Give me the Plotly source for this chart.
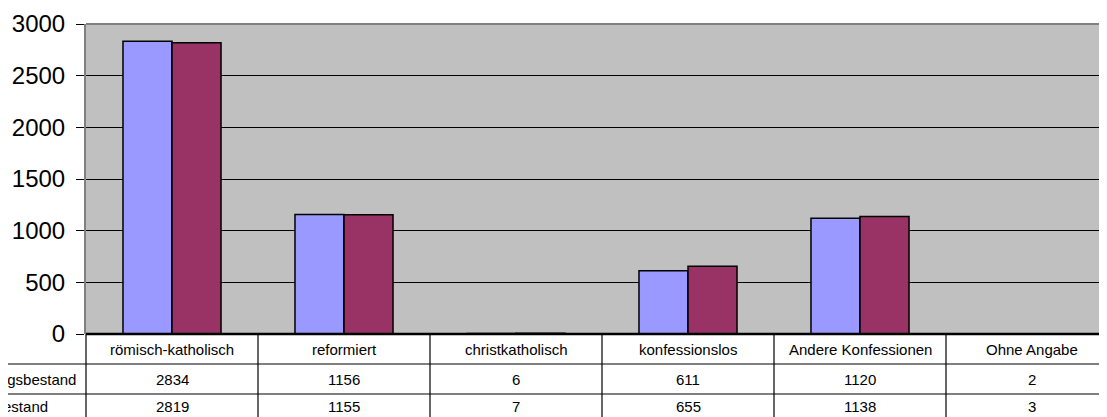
import plotly.graph_objects as go

categories = ["römisch-katholisch", "reformiert", "christkatholisch",
              "konfessionslos", "Andere Konfessionen", "Ohne Angabe"]
series_names = ["Anfangsbestand", "Endbestand"]
anfangsbestand = [2834, 1156, 6, 611, 1120, 2]
endbestand = [2819, 1155, 7, 655, 1138, 3]
y_ticks = [0, 500, 1000, 1500, 2000, 2500, 3000]

FONT = "Liberation Sans, Arial, sans-serif"
# the page body adds an 8px margin, so the figure is 8px smaller than the window
W, H = 1099, 409
L, T, B = 78, 16, 83
plot_w = W - L
plot_h = H - T - B
cat_px = 172  # pixel width of one category slot
x_min = -0.5
x_max = x_min + plot_w / cat_px


def py(px):
    """pixel offset below the plot bottom -> paper y"""
    return -px / plot_h


fig = go.Figure()
for name, vals, color in [
    (series_names[0], anfangsbestand, "#9999FF"),
    (series_names[1], endbestand, "#993366"),
]:
    fig.add_trace(go.Bar(
        x=categories, y=vals, name=name,
        marker=dict(color=color, line=dict(color="black", width=1.5)),
    ))

shapes = []
# plot area border (grey, top)
shapes.append(dict(type="line", xref="paper", yref="paper", x0=0, x1=1, y0=1, y1=1,
                   line=dict(color="#808080", width=2), layer="above"))
# table horizontal lines
shapes.append(dict(type="line", xref="paper", yref="paper", x0=0, x1=1, y0=0, y1=0,
                   line=dict(color="black", width=2.5), layer="above"))
for off in (30, 60):
    shapes.append(dict(type="line", xref="paper", yref="paper", x0=-L / plot_w, x1=1,
                       y0=py(off), y1=py(off), line=dict(color="black", width=1.2)))
# table vertical lines
shapes.append(dict(type="line", xref="paper", yref="paper", x0=0, x1=0, y0=0, y1=py(B),
                   line=dict(color="black", width=1.2)))
for i in range(len(categories) - 1):
    shapes.append(dict(type="line", xref="x", yref="paper", x0=i + 0.5, x1=i + 0.5,
                       y0=0, y1=py(B), line=dict(color="black", width=1.2)))

annotations = []
tfont = dict(family=FONT, size=15, color="black")
for i, cat in enumerate(categories):
    annotations.append(dict(x=cat, xref="x", yref="paper", y=py(15), text=cat,
                            showarrow=False, font=tfont, xanchor="center", yanchor="middle"))
    annotations.append(dict(x=cat, xref="x", yref="paper", y=py(45), text=str(anfangsbestand[i]),
                            showarrow=False, font=tfont, xanchor="center", yanchor="middle"))
    annotations.append(dict(x=cat, xref="x", yref="paper", y=py(73), text=str(endbestand[i]),
                            showarrow=False, font=tfont, xanchor="center", yanchor="middle"))
for name, off in zip(series_names, (45, 73)):
    annotations.append(dict(x=(-42 - L) / plot_w, xref="paper", yref="paper", y=py(off),
                            text=name, showarrow=False, font=tfont,
                            xanchor="left", yanchor="middle"))

fig.update_layout(
    width=W, height=H,
    margin=dict(l=L, r=0, t=T, b=B),
    paper_bgcolor="white",
    plot_bgcolor="#C0C0C0",
    barmode="group",
    bargap=0.43,
    bargroupgap=0,
    showlegend=False,
    font=dict(family=FONT, color="black"),
    xaxis=dict(type="category", range=[x_min, x_max], showticklabels=False,
               showgrid=False, zeroline=False, showline=False, ticks=""),
    yaxis=dict(range=[0, 3000], tickvals=y_ticks, showgrid=True, gridcolor="black",
               gridwidth=1, zeroline=False, showline=True, linecolor="#808080",
               linewidth=2, ticks="outside", ticklen=8, tickcolor="black",
               ticklabelstandoff=6,
               tickfont=dict(family=FONT, size=24, color="black")),
    shapes=shapes,
    annotations=annotations,
)

fig.write_html("out.html")
